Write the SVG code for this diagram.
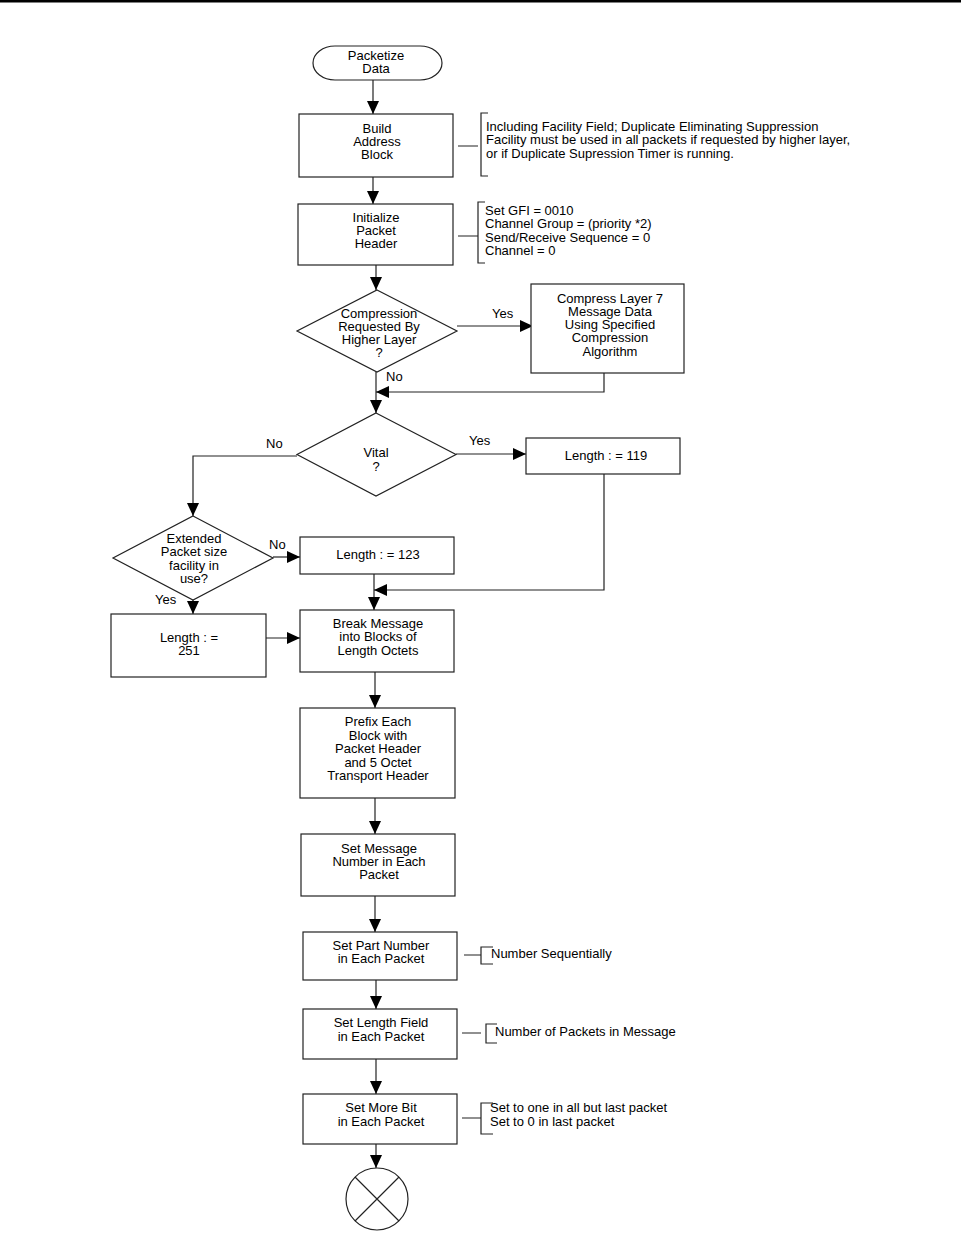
<svg xmlns="http://www.w3.org/2000/svg" width="961" height="1241" viewBox="0 0 961 1241">
<defs>
<style>
text{font-family:"Liberation Sans",Arial,sans-serif;font-size:13px;fill:#000}
.c{text-anchor:middle}
.n{fill:#fff;stroke:#222;stroke-width:1.2}
.l{fill:none;stroke:#222;stroke-width:1.2}
</style>
<marker id="a" markerUnits="userSpaceOnUse" markerWidth="14" markerHeight="14" refX="13" refY="7" orient="auto">
<path d="M0,1 L13,7 L0,13 Z" fill="#000"/>
</marker>
</defs>
<rect x="0" y="0" width="961" height="2.5" fill="#000"/>

<g id="connectors" class="l">
<path class="l" d="M373,80 V114" marker-end="url(#a)"/>
<path class="l" d="M373,177 V204" marker-end="url(#a)"/>
<path class="l" d="M376,265 V290" marker-end="url(#a)"/>
<path class="l" d="M457,326 H533" marker-end="url(#a)"/>
<path class="l" d="M376,372 V413" marker-end="url(#a)"/>
<path class="l" d="M604,373 V392 H376" marker-end="url(#a)"/>
<path class="l" d="M456,454 H526" marker-end="url(#a)"/>
<path class="l" d="M297,456 H193 V516" marker-end="url(#a)"/>
<path class="l" d="M273,557 H300" marker-end="url(#a)"/>
<path class="l" d="M193,600 V614" marker-end="url(#a)"/>
<path class="l" d="M266,638 H300" marker-end="url(#a)"/>
<path class="l" d="M374,574 V610" marker-end="url(#a)"/>
<path class="l" d="M604,474 V590 H374" marker-end="url(#a)"/>
<path class="l" d="M375,672 V708" marker-end="url(#a)"/>
<path class="l" d="M375,798 V834" marker-end="url(#a)"/>
<path class="l" d="M375,896 V932" marker-end="url(#a)"/>
<path class="l" d="M376,980 V1009" marker-end="url(#a)"/>
<path class="l" d="M376,1059 V1094" marker-end="url(#a)"/>
<path class="l" d="M376,1144 V1168" marker-end="url(#a)"/>
</g>

<g id="labels">
<text x="492" y="318">Yes</text>
<text x="386" y="381">No</text>
<text x="469" y="445">Yes</text>
<text x="266" y="448">No</text>
<text x="269" y="549">No</text>
<text x="155" y="604">Yes</text>
</g>

<g id="start">
<rect class="n" x="313" y="46" width="129" height="34" rx="22" ry="17"/>
<text class="c" x="376" y="60">Packetize</text>
<text class="c" x="376" y="73">Data</text>
</g>

<g id="build">
<rect class="n" x="299" y="114" width="154" height="63"/>
<text class="c" x="377" y="133">Build</text>
<text class="c" x="377" y="146">Address</text>
<text class="c" x="377" y="159">Block</text>
</g>
<g id="build-note">
<path class="l" d="M458,146 H478 M488,113 H481 V176 H488"/>
<text x="486" y="131">Including Facility Field; Duplicate Eliminating Suppression</text>
<text x="486" y="144">Facility must be used in all packets if requested by higher layer,</text>
<text x="486" y="158">or if Duplicate Supression Timer is running.</text>
</g>

<g id="init">
<rect class="n" x="298" y="204" width="155" height="61"/>
<text class="c" x="376" y="222">Initialize</text>
<text class="c" x="376" y="235">Packet</text>
<text class="c" x="376" y="248">Header</text>
</g>
<g id="init-note">
<path class="l" d="M458,236 H478 M485,202 H478 V263 H485"/>
<text x="485" y="215">Set GFI = 0010</text>
<text x="485" y="228">Channel Group = (priority *2)</text>
<text x="485" y="242">Send/Receive Sequence = 0</text>
<text x="485" y="255">Channel = 0</text>
</g>

<g id="compress-q">
<path class="n" d="M377,290 L457,331 L377,372 L297,331 Z"/>
<text class="c" x="379" y="318">Compression</text>
<text class="c" x="379" y="331">Requested By</text>
<text class="c" x="379" y="344">Higher Layer</text>
<text class="c" x="379" y="357">?</text>
</g>

<g id="compress">
<rect class="n" x="531" y="284" width="153" height="89"/>
<text class="c" x="610" y="303">Compress Layer 7</text>
<text class="c" x="610" y="316">Message Data</text>
<text class="c" x="610" y="329">Using Specified</text>
<text class="c" x="610" y="342">Compression</text>
<text class="c" x="610" y="356">Algorithm</text>
</g>

<g id="vital">
<path class="n" d="M376,413 L456,454.5 L376,496 L297,454.5 Z"/>
<text class="c" x="376" y="457">Vital</text>
<text class="c" x="376" y="471">?</text>
</g>

<g id="len119">
<rect class="n" x="526" y="438" width="154" height="36"/>
<text class="c" x="606" y="460">Length : = 119</text>
</g>

<g id="extended">
<path class="n" d="M193,516 L273,558 L193,600 L113,558 Z"/>
<text class="c" x="194" y="543">Extended</text>
<text class="c" x="194" y="556">Packet size</text>
<text class="c" x="194" y="570">facility in</text>
<text class="c" x="194" y="583">use?</text>
</g>

<g id="len123">
<rect class="n" x="300" y="537" width="154" height="37"/>
<text class="c" x="378" y="559">Length : = 123</text>
</g>

<g id="len251">
<rect class="n" x="111" y="614" width="155" height="63"/>
<text class="c" x="189" y="642">Length : =</text>
<text class="c" x="189" y="655">251</text>
</g>

<g id="break">
<rect class="n" x="300" y="610" width="154" height="62"/>
<text class="c" x="378" y="628">Break Message</text>
<text class="c" x="378" y="641">into Blocks of</text>
<text class="c" x="378" y="655">Length Octets</text>
</g>

<g id="prefix">
<rect class="n" x="300" y="708" width="155" height="90"/>
<text class="c" x="378" y="726">Prefix Each</text>
<text class="c" x="378" y="740">Block with</text>
<text class="c" x="378" y="753">Packet Header</text>
<text class="c" x="378" y="767">and 5 Octet</text>
<text class="c" x="378" y="780">Transport Header</text>
</g>

<g id="msgnum">
<rect class="n" x="301" y="834" width="154" height="62"/>
<text class="c" x="379" y="853">Set Message</text>
<text class="c" x="379" y="866">Number in Each</text>
<text class="c" x="379" y="879">Packet</text>
</g>

<g id="partnum">
<rect class="n" x="303" y="932" width="154" height="48"/>
<text class="c" x="381" y="950">Set Part Number</text>
<text class="c" x="381" y="963">in Each Packet</text>
</g>
<g id="partnum-note">
<path class="l" d="M464,955 H481 M493,947 H481 V964 H493"/>
<text x="491" y="958">Number Sequentially</text>
</g>

<g id="lenfield">
<rect class="n" x="303" y="1009" width="154" height="50"/>
<text class="c" x="381" y="1027">Set Length Field</text>
<text class="c" x="381" y="1041">in Each Packet</text>
</g>
<g id="lenfield-note">
<path class="l" d="M462,1033 H481 M497,1024 H486 V1043 H497"/>
<text x="495" y="1036">Number of Packets in Message</text>
</g>

<g id="morebit">
<rect class="n" x="303" y="1094" width="154" height="50"/>
<text class="c" x="381" y="1112">Set More Bit</text>
<text class="c" x="381" y="1126">in Each Packet</text>
</g>
<g id="morebit-note">
<path class="l" d="M462,1118 H481 M493,1103 H481 V1134 H493"/>
<text x="490" y="1112">Set to one in all but last packet</text>
<text x="490" y="1126">Set to 0 in last packet</text>
</g>

<g id="end">
<circle class="n" cx="377" cy="1199" r="31"/>
<path class="l" d="M355,1177 L399,1221 M399,1177 L355,1221"/>
</g>
</svg>
